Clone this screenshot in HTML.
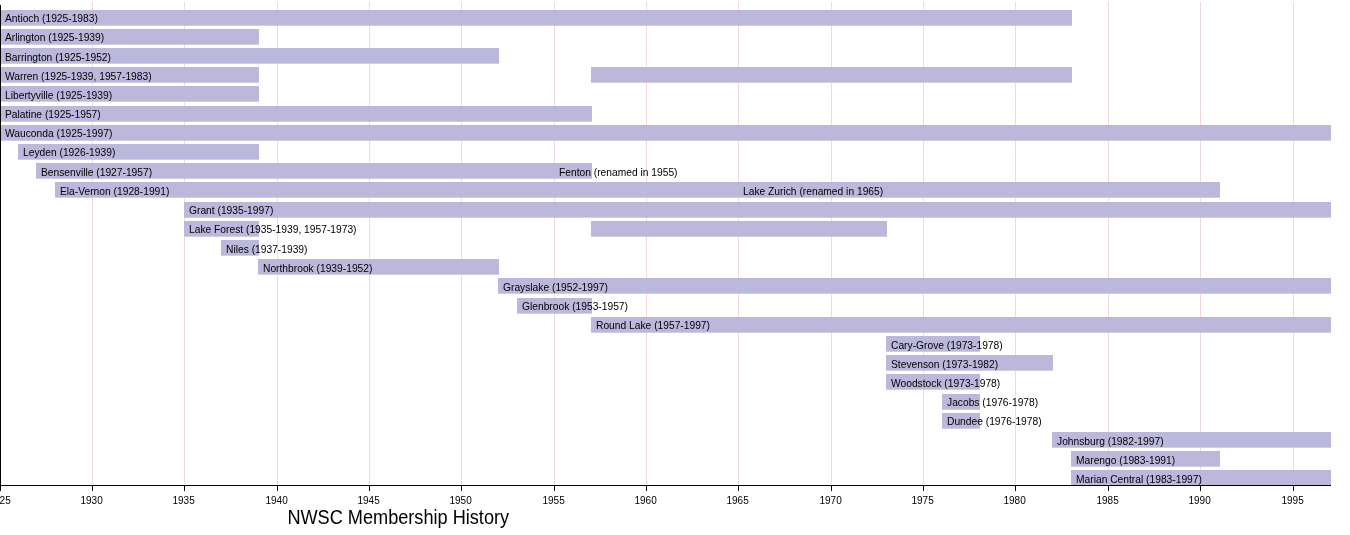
<!DOCTYPE html><html><head><meta charset="utf-8"><title>NWSC Membership History</title><style>html,body{margin:0;padding:0;background:#fff;overflow:hidden;}svg{display:block;}text{font-family:"Liberation Sans",sans-serif;fill:#000;}</style></head><body>
<svg width="1350" height="535" viewBox="0 0 1350 535" shape-rendering="crispEdges">
<rect x="0" y="0" width="1350" height="535" fill="#fff"/>
<rect x="92" y="2" width="1" height="483" fill="#f3d8e3"/><rect x="184" y="2" width="1" height="483" fill="#f3d8e3"/><rect x="277" y="2" width="1" height="483" fill="#f3d8e3"/><rect x="369" y="2" width="1" height="483" fill="#f3d8e3"/><rect x="461" y="2" width="1" height="483" fill="#f3d8e3"/><rect x="554" y="2" width="1" height="483" fill="#f3d8e3"/><rect x="646" y="2" width="1" height="483" fill="#f3d8e3"/><rect x="738" y="2" width="1" height="483" fill="#f3d8e3"/><rect x="831" y="2" width="1" height="483" fill="#f3d8e3"/><rect x="923" y="2" width="1" height="483" fill="#f3d8e3"/><rect x="1015" y="2" width="1" height="483" fill="#f3d8e3"/><rect x="1108" y="2" width="1" height="483" fill="#f3d8e3"/><rect x="1200" y="2" width="1" height="483" fill="#f3d8e3"/><rect x="1293" y="2" width="1" height="483" fill="#f3d8e3"/>
<rect x="0" y="10" width="1072" height="15.7" fill="#bcb8db" shape-rendering="auto"/><rect x="0" y="29" width="259" height="15.7" fill="#bcb8db" shape-rendering="auto"/><rect x="0" y="48" width="499" height="15.7" fill="#bcb8db" shape-rendering="auto"/><rect x="0" y="67" width="259" height="15.7" fill="#bcb8db" shape-rendering="auto"/><rect x="591" y="67" width="481" height="15.7" fill="#bcb8db" shape-rendering="auto"/><rect x="0" y="86" width="259" height="15.7" fill="#bcb8db" shape-rendering="auto"/><rect x="0" y="106" width="592" height="15.7" fill="#bcb8db" shape-rendering="auto"/><rect x="0" y="125" width="1331" height="15.7" fill="#bcb8db" shape-rendering="auto"/><rect x="18" y="144" width="241" height="15.7" fill="#bcb8db" shape-rendering="auto"/><rect x="36" y="163" width="556" height="15.7" fill="#bcb8db" shape-rendering="auto"/><rect x="55" y="182" width="1165" height="15.7" fill="#bcb8db" shape-rendering="auto"/><rect x="184" y="202" width="1147" height="15.7" fill="#bcb8db" shape-rendering="auto"/><rect x="184" y="221" width="75" height="15.7" fill="#bcb8db" shape-rendering="auto"/><rect x="591" y="221" width="296" height="15.7" fill="#bcb8db" shape-rendering="auto"/><rect x="221" y="240" width="38" height="15.7" fill="#bcb8db" shape-rendering="auto"/><rect x="258" y="259" width="241" height="15.7" fill="#bcb8db" shape-rendering="auto"/><rect x="498" y="278" width="833" height="15.7" fill="#bcb8db" shape-rendering="auto"/><rect x="517" y="298" width="75" height="15.7" fill="#bcb8db" shape-rendering="auto"/><rect x="591" y="317" width="740" height="15.7" fill="#bcb8db" shape-rendering="auto"/><rect x="886" y="336" width="94" height="15.7" fill="#bcb8db" shape-rendering="auto"/><rect x="886" y="355" width="167" height="15.7" fill="#bcb8db" shape-rendering="auto"/><rect x="886" y="374" width="94" height="15.7" fill="#bcb8db" shape-rendering="auto"/><rect x="942" y="394" width="38" height="15.7" fill="#bcb8db" shape-rendering="auto"/><rect x="942" y="413" width="38" height="15.7" fill="#bcb8db" shape-rendering="auto"/><rect x="1052" y="432" width="279" height="15.7" fill="#bcb8db" shape-rendering="auto"/><rect x="1071" y="451" width="149" height="15.7" fill="#bcb8db" shape-rendering="auto"/><rect x="1071" y="470" width="260" height="15.7" fill="#bcb8db" shape-rendering="auto"/>
<g style="will-change:transform"><text x="5" y="22" font-size="10.25">Antioch (1925-1983)</text><text x="5" y="41" font-size="10.25">Arlington (1925-1939)</text><text x="5" y="61" font-size="10.25">Barrington (1925-1952)</text><text x="5" y="80" font-size="10.25">Warren (1925-1939, 1957-1983)</text><text x="5" y="99" font-size="10.25">Libertyville (1925-1939)</text><text x="5" y="118" font-size="10.25">Palatine (1925-1957)</text><text x="5" y="137" font-size="10.25">Wauconda (1925-1997)</text><text x="23" y="156" font-size="10.25">Leyden (1926-1939)</text><text x="41" y="176" font-size="10.25">Bensenville (1927-1957)</text><text x="60" y="195" font-size="10.25">Ela-Vernon (1928-1991)</text><text x="189" y="214" font-size="10.25">Grant (1935-1997)</text><text x="189" y="233" font-size="10.25">Lake Forest (1935-1939, 1957-1973)</text><text x="226" y="253" font-size="10.25">Niles (1937-1939)</text><text x="263" y="272" font-size="10.25">Northbrook (1939-1952)</text><text x="503" y="291" font-size="10.25">Grayslake (1952-1997)</text><text x="522" y="310" font-size="10.25">Glenbrook (1953-1957)</text><text x="596" y="329" font-size="10.25">Round Lake (1957-1997)</text><text x="891" y="349" font-size="10.25">Cary-Grove (1973-1978)</text><text x="891" y="368" font-size="10.25">Stevenson (1973-1982)</text><text x="891" y="387" font-size="10.25">Woodstock (1973-1978)</text><text x="947" y="406" font-size="10.25">Jacobs (1976-1978)</text><text x="947" y="425" font-size="10.25">Dundee (1976-1978)</text><text x="1057" y="445" font-size="10.25">Johnsburg (1982-1997)</text><text x="1076" y="464" font-size="10.25">Marengo (1983-1991)</text><text x="1076" y="483" font-size="10.25">Marian Central (1983-1997)</text><text x="559" y="176" font-size="10.25">Fenton (renamed in 1955)</text><text x="743" y="195" font-size="10.25">Lake Zurich (renamed in 1965)</text>
<rect x="0" y="5" width="1" height="481" fill="#000"/>
<rect x="0" y="485" width="1331" height="1" fill="#000"/>
<rect x="0" y="485" width="1" height="6" fill="#000"/><text x="-0.4" y="504" font-size="10" text-anchor="middle">1925</text><rect x="92" y="485" width="1" height="6" fill="#000"/><text x="91.6" y="504" font-size="10" text-anchor="middle">1930</text><rect x="184" y="485" width="1" height="6" fill="#000"/><text x="183.6" y="504" font-size="10" text-anchor="middle">1935</text><rect x="277" y="485" width="1" height="6" fill="#000"/><text x="276.6" y="504" font-size="10" text-anchor="middle">1940</text><rect x="369" y="485" width="1" height="6" fill="#000"/><text x="368.6" y="504" font-size="10" text-anchor="middle">1945</text><rect x="461" y="485" width="1" height="6" fill="#000"/><text x="460.6" y="504" font-size="10" text-anchor="middle">1950</text><rect x="554" y="485" width="1" height="6" fill="#000"/><text x="553.6" y="504" font-size="10" text-anchor="middle">1955</text><rect x="646" y="485" width="1" height="6" fill="#000"/><text x="645.6" y="504" font-size="10" text-anchor="middle">1960</text><rect x="738" y="485" width="1" height="6" fill="#000"/><text x="737.6" y="504" font-size="10" text-anchor="middle">1965</text><rect x="831" y="485" width="1" height="6" fill="#000"/><text x="830.6" y="504" font-size="10" text-anchor="middle">1970</text><rect x="923" y="485" width="1" height="6" fill="#000"/><text x="922.6" y="504" font-size="10" text-anchor="middle">1975</text><rect x="1015" y="485" width="1" height="6" fill="#000"/><text x="1014.6" y="504" font-size="10" text-anchor="middle">1980</text><rect x="1108" y="485" width="1" height="6" fill="#000"/><text x="1107.6" y="504" font-size="10" text-anchor="middle">1985</text><rect x="1200" y="485" width="1" height="6" fill="#000"/><text x="1199.6" y="504" font-size="10" text-anchor="middle">1990</text><rect x="1293" y="485" width="1" height="6" fill="#000"/><text x="1292.6" y="504" font-size="10" text-anchor="middle">1995</text>
<text transform="translate(287.4,524) scale(1,1.07)" font-size="18.15">NWSC Membership History</text></g>
</svg></body></html>
